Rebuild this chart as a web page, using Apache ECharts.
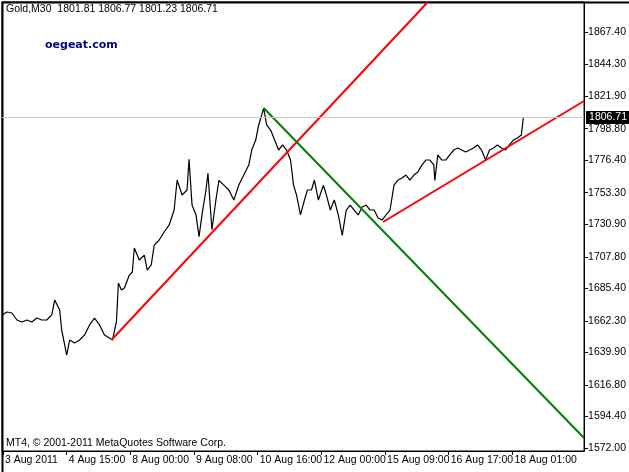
<!DOCTYPE html>
<html><head><meta charset="utf-8">
<script src="https://cdn.jsdelivr.net/npm/echarts@6/dist/echarts.min.js"></script>
<style>html,body{margin:0;padding:0;background:#fff}#c{width:629px;height:472px}</style>
</head><body><div id="c"></div>
<script>
const barPos = [2,7,12,17,22,27,32,37,42,47,52,55,57,60,62,65,67,70,75,80,85,90,95,100,105,110,113,117,119,122,125,130,133,135,140,145,148,152,155,160,165,170,175,178,183,188,190,193,197,200,203,207,209,213,217,220,225,230,235,240,245,250,253,257,260,263,265,268,272,276,280,284,288,292,295,298,302,306,309,313,316,320,325,328,332,336,340,344,348,352,356,360,364,368,372,376,380,384,388,392,396,400,404,408,412,416,420,424,428,432,436,437,440,444,448,452,456,460,464,468,472,476,480,484,488,492,496,500,504,508,512,516,520,524,526];
const closes = [1666.5,1668.6,1667.9,1662.9,1661.5,1662.9,1661.5,1664.3,1662.9,1662.9,1666.5,1677.1,1678.5,1670.0,1655.8,1645.2,1638.0,1648.7,1646.6,1648.7,1652.3,1659.4,1664.3,1659.4,1652.3,1650.1,1648.7,1661.5,1689.2,1684.2,1685.6,1694.8,1697.0,1714.0,1705.5,1709.0,1698.4,1702.0,1716.1,1719.7,1725.4,1730.4,1741.0,1762.3,1751.7,1755.2,1777.0,1744.5,1737.5,1722.0,1737.5,1755.2,1767.0,1727.0,1748.1,1762.0,1758.7,1755.2,1748.1,1758.7,1765.8,1772.9,1783.6,1790.7,1801.4,1808.5,1813.4,1801.4,1797.8,1790.7,1783.6,1787.2,1783.6,1776.5,1758.7,1751.7,1737.5,1748.1,1755.2,1755.2,1762.3,1748.1,1758.7,1751.7,1741.0,1748.1,1737.5,1723.0,1741.0,1744.5,1741.0,1737.5,1743.1,1744.5,1741.0,1741.0,1735.3,1733.9,1737.5,1741.0,1758.7,1762.3,1763.7,1765.8,1762.3,1765.8,1768.0,1772.9,1776.5,1776.5,1773.0,1762.0,1780.1,1776.5,1776.5,1780.1,1783.6,1785.0,1783.6,1782.2,1783.6,1785.0,1787.2,1783.6,1776.5,1783.6,1785.0,1787.2,1785.0,1783.6,1787.2,1790.7,1792.1,1794.3,1806.71];
const redLine1 = [[112,1648.7],[430,1888.7]];
const greenLine = [[265,1813.4],[587,1579.1]];
const redLine2 = [[385,1732.5],[587,1818.4]];
const lastPrice = 1806.71;
const yTicks = [1572.00,1594.40,1616.80,1639.90,1662.30,1685.40,1707.80,1730.90,1753.30,1776.40,1798.80,1821.90,1844.30,1867.40];
const xTickPos = [3,67,131,195,259,323,387,451,515];
const xTickLabels = ['3 Aug 2011','4 Aug 15:00','8 Aug 00:00','9 Aug 08:00','10 Aug 16:00','12 Aug 00:00','15 Aug 09:00','16 Aug 17:00','18 Aug 01:00'];

const font = 'Liberation Sans';
const chart = echarts.init(document.getElementById('c'));
chart.setOption({
  animation:false,
  grid:{left:2,right:42,top:2,bottom:21,show:true,borderColor:'#000',borderWidth:1},
  xAxis:{type:'value',min:2,max:587,
    axisLine:{show:true,lineStyle:{color:'#000'}},
    splitLine:{show:false},
    axisTick:{show:true,customValues:xTickPos,length:4,lineStyle:{color:'#000'}},
    axisLabel:{customValues:xTickPos,align:'left',margin:4,padding:[0,0,0,2],color:'#000',fontFamily:font,fontSize:10.5,hideOverlap:false,showMaxLabel:true,showMinLabel:true,
      formatter:v=>{const i=xTickPos.indexOf(v);return i>=0?xTickLabels[i]:'';}}},
  yAxis:{type:'value',position:'right',min:1569.9,max:1888.7,
    axisLine:{show:true,lineStyle:{color:'#000'}},
    splitLine:{show:false},
    axisTick:{show:true,customValues:yTicks,length:4,lineStyle:{color:'#000'}},
    axisLabel:{customValues:yTicks,margin:4,color:'#000',fontFamily:font,fontSize:10.5,formatter:v=>v.toFixed(2)}},
  series:[
    {type:'line',data:barPos.map((x,i)=>[x,closes[i]]),showSymbol:false,lineStyle:{color:'#000',width:1.2},
      markLine:{silent:true,symbol:'none',data:[{yAxis:lastPrice}],lineStyle:{color:'#c8c8c8',width:1,type:'solid'},
        label:{show:true,position:'end',formatter:lastPrice.toFixed(2),backgroundColor:'#000',color:'#fff',fontFamily:font,fontSize:10.5,padding:[1,3],distance:2}}},
    {type:'line',data:redLine1,showSymbol:false,lineStyle:{color:'#ff0000',width:2}},
    {type:'line',data:greenLine,showSymbol:false,lineStyle:{color:'#008000',width:2}},
    {type:'line',data:redLine2,showSymbol:false,lineStyle:{color:'#ff0000',width:2}}
  ],
  graphic:[
    {type:'rect',left:0,top:0,shape:{width:629,height:472},style:{fill:'none',stroke:'#000',lineWidth:2},silent:true},
    {type:'text',left:6,top:4,style:{text:'Gold,M30  1801.81 1806.77 1801.23 1806.71',fontFamily:font,fontSize:10.5,fill:'#000'}},
    {type:'text',left:45,top:40,style:{text:'oegeat.com',fontFamily:'DejaVu Sans',fontSize:11,fontWeight:'bold',fill:'#000080'}},
    {type:'text',left:6,top:438,style:{text:'MT4, © 2001-2011 MetaQuotes Software Corp.',fontFamily:font,fontSize:10.5,fill:'#000'}}
  ]
});
</script></body></html>
